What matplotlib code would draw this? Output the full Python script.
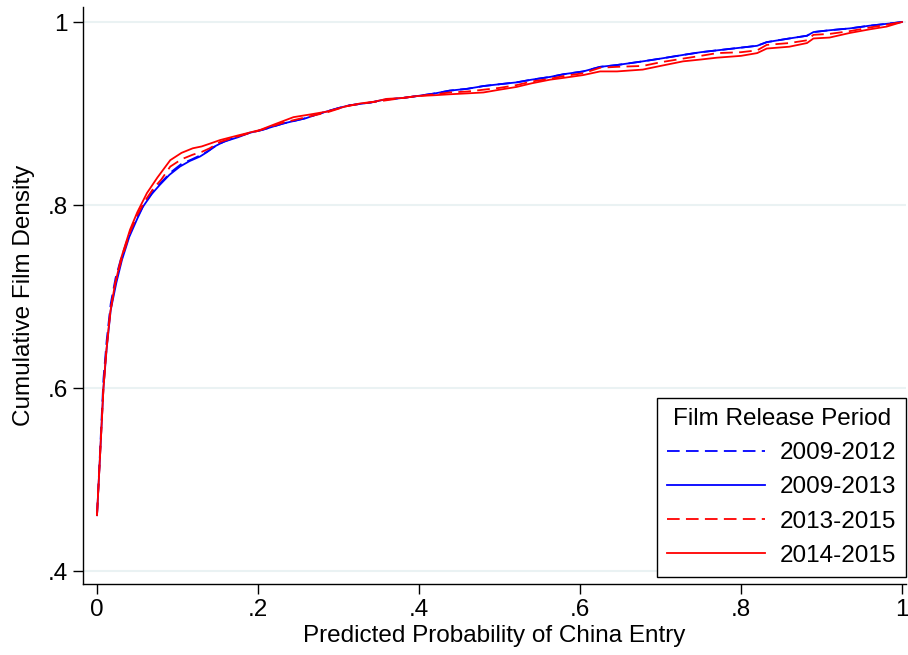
import matplotlib
matplotlib.use("Agg")
import matplotlib.pyplot as plt

plt.rcParams["font.family"] = ["Liberation Sans", "DejaVu Sans"]

# cumulative film density by predicted probability of China entry
x_0912 = [0, 0.004, 0.008, 0.012, 0.017, 0.023, 0.03, 0.04, 0.05, 0.058, 0.07, 0.08,
          0.092, 0.105, 0.118, 0.13, 0.14, 0.15, 0.16, 0.175, 0.19, 0.205, 0.231, 0.26,
          0.273, 0.3, 0.314, 0.34, 0.356, 0.38, 0.397, 0.42, 0.438, 0.46, 0.48, 0.5,
          0.521, 0.54, 0.563, 0.58, 0.604, 0.625, 0.646, 0.678, 0.7, 0.728, 0.75, 0.77,
          0.8, 0.82, 0.832, 0.86, 0.882, 0.89, 0.91, 0.935, 0.96, 0.981, 1.0]
y_0912 = [0.461, 0.535, 0.61, 0.652, 0.692, 0.72, 0.742, 0.768, 0.787, 0.80, 0.815, 0.825,
          0.836, 0.845, 0.85, 0.855, 0.86, 0.866, 0.87, 0.875, 0.879, 0.882, 0.889, 0.895,
          0.899, 0.906, 0.909, 0.912, 0.915, 0.917, 0.919, 0.922, 0.925, 0.927, 0.930, 0.932,
          0.934, 0.937, 0.940, 0.943, 0.946, 0.951, 0.953, 0.957, 0.960, 0.964, 0.967, 0.969,
          0.972, 0.974, 0.978, 0.982, 0.985, 0.989, 0.991, 0.993, 0.996, 0.998, 1.0]

x_0913 = [0, 0.004, 0.008, 0.012, 0.017, 0.024, 0.031, 0.04, 0.05, 0.057, 0.068, 0.078,
          0.09, 0.103, 0.115, 0.128, 0.137, 0.144, 0.157, 0.175, 0.19, 0.205, 0.231, 0.26,
          0.273, 0.3, 0.314, 0.34, 0.356, 0.38, 0.397, 0.42, 0.438, 0.46, 0.48, 0.5,
          0.521, 0.54, 0.563, 0.58, 0.604, 0.625, 0.646, 0.678, 0.7, 0.728, 0.75, 0.77,
          0.8, 0.82, 0.832, 0.86, 0.882, 0.89, 0.91, 0.935, 0.96, 0.981, 1.0]
y_0913 = [0.461, 0.53, 0.60, 0.643, 0.685, 0.715, 0.74, 0.765, 0.785, 0.798, 0.812, 0.822,
          0.833, 0.842, 0.848, 0.853, 0.858, 0.863, 0.869, 0.874, 0.879, 0.882, 0.889, 0.895,
          0.899, 0.906, 0.909, 0.912, 0.915, 0.917, 0.919, 0.922, 0.925, 0.927, 0.930, 0.932,
          0.934, 0.937, 0.940, 0.943, 0.946, 0.951, 0.953, 0.957, 0.960, 0.964, 0.967, 0.969,
          0.972, 0.974, 0.978, 0.982, 0.985, 0.989, 0.991, 0.993, 0.996, 0.998, 1.0]

x_1315 = [0, 0.004, 0.008, 0.012, 0.017, 0.023, 0.031, 0.041, 0.05, 0.06, 0.07, 0.08,
          0.091, 0.105, 0.119, 0.13, 0.14, 0.153, 0.175, 0.2, 0.231, 0.26, 0.285, 0.31,
          0.33, 0.356, 0.38, 0.397, 0.42, 0.438, 0.46, 0.48, 0.5, 0.521, 0.54, 0.563,
          0.58, 0.604, 0.625, 0.646, 0.678, 0.7, 0.728, 0.75, 0.77, 0.8, 0.82, 0.832,
          0.86, 0.882, 0.89, 0.91, 0.935, 0.96, 0.981, 1.0]
y_1315 = [0.461, 0.53, 0.60, 0.645, 0.686, 0.716, 0.742, 0.77, 0.789, 0.805, 0.818, 0.828,
          0.842, 0.85, 0.855, 0.858, 0.862, 0.869, 0.875, 0.881, 0.89, 0.896, 0.901, 0.908,
          0.911, 0.914, 0.917, 0.919, 0.921, 0.923, 0.924, 0.926, 0.928, 0.931, 0.935, 0.938,
          0.941, 0.944, 0.950, 0.951, 0.952, 0.956, 0.960, 0.963, 0.966, 0.967, 0.969, 0.975,
          0.977, 0.980, 0.986, 0.987, 0.990, 0.994, 0.997, 1.0]

x_1415 = [0, 0.004, 0.008, 0.011, 0.016, 0.022, 0.03, 0.041, 0.05, 0.062, 0.075, 0.091,
          0.105, 0.119, 0.13, 0.14, 0.153, 0.175, 0.2025, 0.22, 0.244, 0.265, 0.285, 0.31,
          0.327, 0.345, 0.36, 0.38, 0.397, 0.42, 0.438, 0.46, 0.48, 0.5, 0.521, 0.54,
          0.563, 0.58, 0.604, 0.625, 0.646, 0.678, 0.7, 0.728, 0.75, 0.77, 0.8, 0.82,
          0.832, 0.86, 0.882, 0.89, 0.91, 0.935, 0.96, 0.981, 1.0]
y_1415 = [0.461, 0.53, 0.60, 0.635, 0.68, 0.712, 0.742, 0.773, 0.792, 0.813, 0.83, 0.849,
          0.857, 0.862, 0.864, 0.867, 0.871, 0.876, 0.882, 0.888, 0.896, 0.899, 0.902, 0.908,
          0.911, 0.913, 0.916, 0.917, 0.919, 0.920, 0.921, 0.922, 0.923, 0.926, 0.929, 0.933,
          0.937, 0.939, 0.942, 0.946, 0.946, 0.948, 0.952, 0.957, 0.959, 0.961, 0.963, 0.966,
          0.971, 0.973, 0.977, 0.982, 0.983, 0.988, 0.992, 0.995, 1.0]

xticks = [0, 0.2, 0.4, 0.6, 0.8, 1.0]
xtick_labels = ["0", ".2", ".4", ".6", ".8", "1"]
yticks = [0.4, 0.6, 0.8, 1.0]
ytick_labels = [".4", ".6", ".8", "1"]

fs = 17.5
fig = plt.figure(figsize=(9.08, 6.55), dpi=100)
ax = fig.add_axes([83 / 908, 71 / 655, 823 / 908, 577 / 655])

ax.plot(x_0912, y_0912, color="#0000ff", lw=1.3, ls=(0, (7, 3.5)), label="2009-2012")
ax.plot(x_0913, y_0913, color="#0000ff", lw=1.3, label="2009-2013")
ax.plot(x_1315, y_1315, color="#ff0000", lw=1.3, ls=(0, (7, 3.5)), label="2013-2015")
ax.plot(x_1415, y_1415, color="#ff0000", lw=1.3, label="2014-2015")

ax.set_xlim(-0.0174, 1.005)
ax.set_ylim(0.3858, 1.0164)
ax.set_xticks(xticks)
ax.set_xticklabels(xtick_labels)
ax.set_yticks(yticks)
ax.set_yticklabels(ytick_labels)
ax.tick_params(labelsize=fs, length=7, width=1, color="black", pad=4)
ax.grid(axis="y", color="#eaf2f3", lw=1.5)
ax.set_axisbelow(True)
for side in ["top", "right"]:
    ax.spines[side].set_visible(False)
ax.spines["left"].set_linewidth(1)
ax.spines["bottom"].set_linewidth(1)

ax.set_xlabel("Predicted Probability of China Entry", fontsize=fs, labelpad=3)
ax.set_ylabel("Cumulative Film Density", fontsize=fs, labelpad=9)

leg = ax.legend(title="Film Release Period", fontsize=fs, title_fontsize=fs,
                loc="lower right", bbox_to_anchor=(1.0, 7 / 577), borderaxespad=0,
                fancybox=False, edgecolor="black", framealpha=1,
                handlelength=4.0, handletextpad=0.6, labelspacing=0.5,
                borderpad=0.42)
leg.get_frame().set_linewidth(1)

fig.savefig("out.png", dpi=100)
